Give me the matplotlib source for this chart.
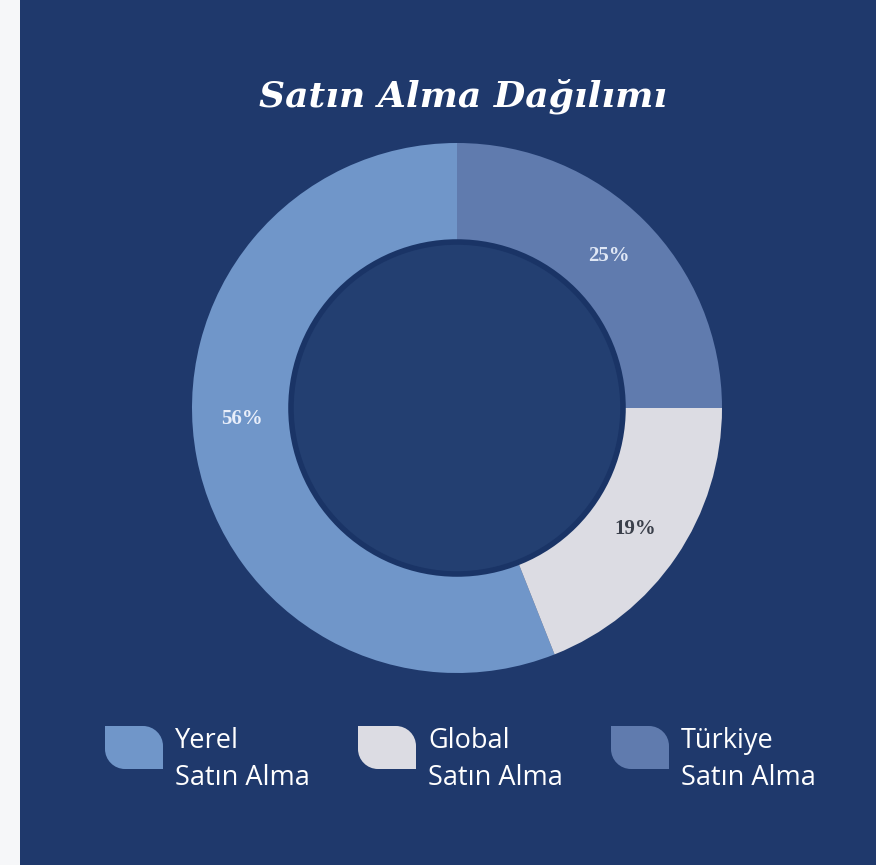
import numpy as np
import matplotlib
matplotlib.use('Agg')
import matplotlib.pyplot as plt
from matplotlib.patches import Rectangle, PathPatch, Circle
from matplotlib.path import Path

# data
categories = ['Yerel\nSatın Alma', 'Global\nSatın Alma', 'Türkiye\nSatın Alma']
shares = [56, 19, 25]
colors = ['#7096c9', '#dcdce3', '#607bae']
label_colors = ['#e8eefa', '#3a3f4a', '#dfe7f5']

bg = '#1f396c'

fig = plt.figure(figsize=(8.76, 8.65), dpi=100, facecolor=bg)
ax = fig.add_axes([0, 0, 1, 1])
ax.set_facecolor(bg)

W, H = 876, 865
cx, cy = 457, H - 408
r_out, r_in = 265, 166
r_mid = (r_out + r_in) / 2

wedges, texts, autotexts = ax.pie(
    shares, colors=colors, startangle=90, counterclock=True,
    center=(cx, cy), radius=r_out,
    wedgeprops=dict(width=r_out - r_in, linewidth=0),
    autopct='%d%%', pctdistance=r_mid / r_out,
    textprops=dict(family='Liberation Serif', fontsize=15, fontweight='bold'))
for t, c in zip(autotexts, label_colors):
    t.set_color(c)
# the big slice's label sits near the left middle, not at the slice centre
a = np.deg2rad(183)
autotexts[0].set_position((cx + r_mid * np.cos(a), cy + r_mid * np.sin(a)))

# hole with slightly darker rim
ax.add_patch(Circle((cx, cy), r_in, facecolor='#233f71', edgecolor='#1a3466', lw=4, zorder=3))

ax.set_xlim(0, W)
ax.set_ylim(0, H)
ax.set_aspect('equal')
ax.axis('off')

# white strip at left
ax.add_patch(Rectangle((0, 0), 20, H, facecolor='#f6f7f9', edgecolor='none', zorder=5))

ax.text(463, H - 106, 'Satın Alma Dağılımı', ha='center', va='baseline', color='white',
        family='DejaVu Serif', fontsize=26, fontweight='bold', fontstyle='italic')


def leaf(x0, y0, w, h, r):
    # square with rounded top-right and bottom-left corners
    k = 0.5523 * r
    verts = [(x0, y0 + h), (x0 + w - r, y0 + h),
             (x0 + w - r + k, y0 + h), (x0 + w, y0 + h - r + k), (x0 + w, y0 + h - r),
             (x0 + w, y0),
             (x0 + r, y0),
             (x0 + r - k, y0), (x0, y0 + r - k), (x0, y0 + r),
             (x0, y0 + h)]
    codes = [Path.MOVETO, Path.LINETO,
             Path.CURVE4, Path.CURVE4, Path.CURVE4,
             Path.LINETO, Path.LINETO,
             Path.CURVE4, Path.CURVE4, Path.CURVE4,
             Path.CLOSEPOLY]
    return Path(verts, codes)


for i, (name, c) in enumerate(zip(categories, colors)):
    x0 = 105 + i * 253
    ax.add_patch(PathPatch(leaf(x0, H - 769, 58, 43, 20), facecolor=c, edgecolor='none'))
    l1, l2 = name.split('\n')
    ax.text(x0 + 70, H - 748, l1, ha='left', va='baseline', color='white',
            family='Open Sans', fontsize=19.5)
    ax.text(x0 + 70, H - 785, l2, ha='left', va='baseline', color='white',
            family='Open Sans', fontsize=19.5)

fig.savefig('out.png', dpi=100, facecolor=bg)
